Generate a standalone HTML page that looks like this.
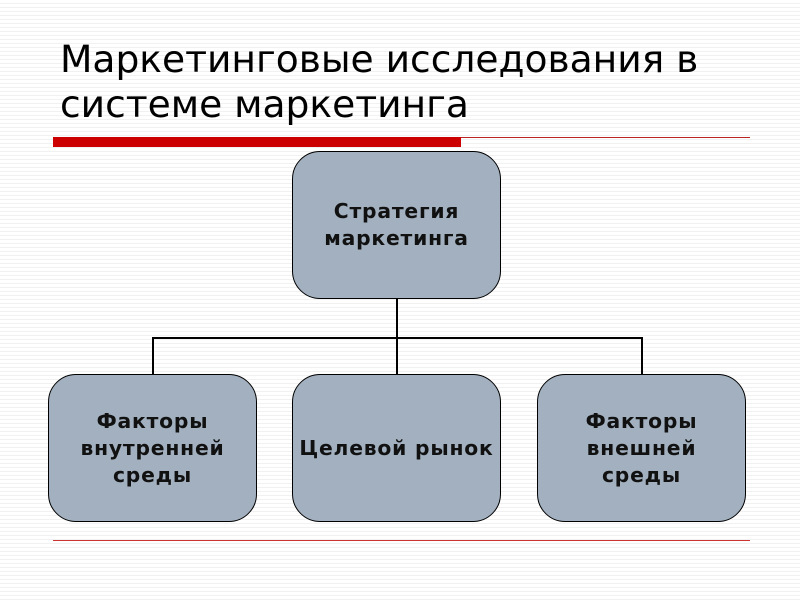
<!DOCTYPE html><html><head><style>
body{margin:0;width:800px;height:600px;overflow:hidden;background:#fff repeating-linear-gradient(#fff 0,#fff 3px,#f1f1f1 3px,#f1f1f1 4px);font-family:"Liberation Sans","DejaVu Sans",sans-serif;position:relative}
.t{position:absolute;left:60px;top:37px;font-family:"DejaVu Sans",sans-serif;font-size:37.6px;line-height:45px;color:#000}
.b{position:absolute;width:207px;height:146px;background:#a2b0bf;border:1.5px solid #000;border-radius:28px;display:flex;align-items:center;justify-content:center;text-align:center;font-family:"DejaVu Sans",sans-serif;font-weight:bold;font-size:20.3px;letter-spacing:0.8px;line-height:27px;color:#111}
.l{position:absolute;background:#000}
</style></head><body>
<div class="t">Маркетинговые исследования в<br>системе маркетинга</div>
<div style="position:absolute;left:53px;top:137px;width:408px;height:10px;background:#cc0000"></div>
<div style="position:absolute;left:461px;top:137px;width:289px;height:1px;background:#b22"></div>
<div style="position:absolute;left:53px;top:540px;width:697px;height:1px;background:#c33"></div>
<div class="b" style="left:292px;top:151px">Стратегия<br>маркетинга</div>
<div class="b" style="left:48px;top:374px">Факторы<br>внутренней<br>среды</div>
<div class="b" style="left:292px;top:374px">Целевой рынок</div>
<div class="b" style="left:537px;top:374px">Факторы<br>внешней<br>среды</div>
<div class="l" style="left:396px;top:299px;width:2px;height:75px"></div>
<div class="l" style="left:152px;top:337px;width:491px;height:2px"></div>
<div class="l" style="left:152px;top:337px;width:2px;height:37px"></div>
<div class="l" style="left:641px;top:337px;width:2px;height:37px"></div>
</body></html>
